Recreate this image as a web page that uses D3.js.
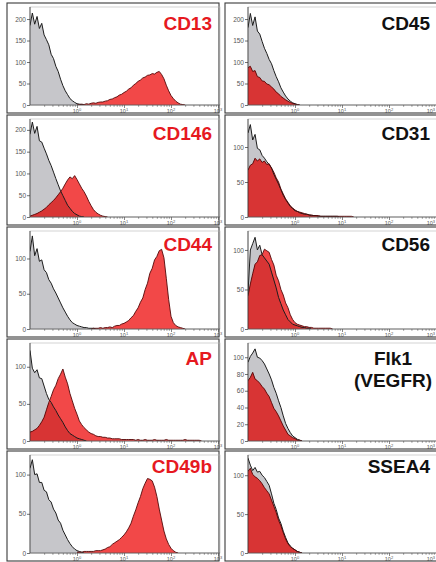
<!DOCTYPE html>
<html><head><meta charset="utf-8">
<script src="https://cdn.jsdelivr.net/npm/d3@7"></script>
<style>html,body{margin:0;padding:0;background:#fff;}svg{display:block;}</style>
</head><body>
<script>
// ---- data ----
const STEP = 0.05; // decades per histogram bin (log10 units)
const markerLines = [["CD13"],["CD45"],["CD146"],["CD31"],["CD44"],["CD56"],["AP"],["Flk1","(VEGFR)"],["CD49b"],["SSEA4"]];
const positive = [true,false,true,false,true,false,true,false,true,false];
const yMax = [228,228,225,140,139,124,132,117,125,126];
const yTicks = [[0,50,100,150,200],[0,50,100,150,200],[0,50,100,150,200],[0,50,100],[0,50,100],[0,50,100],[0,50,100],[0,20,40,60,80,100],[0,50,100],[0,50,100]];
const xMajor = [1,10,100,1000];
const xSup = ["0","1","2","3"];

// isotype control (grey) counts, start log10 = isoStart
const cd13Iso = [185,214,188,206,178,190,163,152,140,118,108,90,78,60,45,33,24,15,10,6,3,2,1,0];
const cd45Iso = [180,213,185,205,172,165,148,132,120,106,96,80,66,54,40,30,21,14,9,5,3,1,0];
const cd146Iso = [190,218,192,208,175,172,158,145,130,118,103,88,74,60,49,38,27,20,13,8,5,2,1,0];
const cd31Iso = [120,132,110,118,98,96,88,84,79,75,70,61,54,47,39,31,25,20,15,12,9,8,6,5,4,4,3,2,2,2,1,1,1,1,1,1,1,1,1,0];
const cd44Iso = [110,132,104,114,96,98,84,80,70,65,57,51,44,37,30,24,18,13,9,7,5,4,3,2,2,1,1,1,0];
const cd56Iso = [46,100,108,116,100,106,94,90,86,82,72,62,52,40,32,24,18,12,9,6,5,4,3,2,2,1,1,0];
const apIso = [122,98,92,96,85,84,74,64,56,52,46,41,35,30,25,19,14,10,8,6,4,3,2,1,0];
const flk1Iso = [94,101,105,110,100,99,96,92,86,80,73,64,57,48,40,30,21,15,10,6,4,2,1,0];
const cd49bIso = [108,119,100,101,90,90,80,78,68,65,56,51,42,38,29,23,17,12,8,5,3,2,1,0];
const ssea4Iso = [122,113,106,110,104,105,100,97,92,87,76,64,56,45,38,28,20,13,9,6,4,2,1,0];

// antibody-stained (red) counts, start log10 = abStart
const cd13Ab = [0,1,2,1,3,2,4,5,4,6,7,7,9,10,13,14,17,19,23,25,29,32,37,40,46,50,55,58,63,65,69,70,73,72,76,78,71,61,46,33,22,15,9,5,2,1,0];
const cd45Ab = [87,90,78,80,66,64,56,55,49,47,42,37,30,26,20,16,12,9,6,4,2,1,0];
const cd146Ab = [2,4,6,8,11,14,18,22,28,33,38,44,51,58,66,76,85,92,88,95,86,76,66,58,48,36,26,17,11,7,4,2,1,0];
const cd31Ab = [67,74,76,84,80,83,78,80,75,76,70,64,56,50,40,33,26,21,16,13,10,8,7,6,5,4,3,3,2,2,2,1,1,1,1,1,1,1,1,1,1,1,1,1,1,0];
const cd44Ab = [0,1,1,1,2,1,2,2,3,2,4,5,5,7,8,10,12,16,19,25,30,38,44,56,65,79,86,98,103,111,113,101,72,42,18,9,5,3,2,1,0];
const cd56Ab = [42,57,70,82,85,93,94,101,99,97,88,81,68,61,50,43,33,27,18,12,8,6,5,4,3,3,2,2,1,1,1,1,1,1,1,1,0];
const apAb = [12,13,15,17,21,26,32,42,52,60,69,75,84,90,97,86,77,64,54,44,36,27,22,18,15,12,10,9,7,6,6,5,5,4,4,3,3,3,3,2,2,2,2,2,2,1,2,1,1,2,1,1,1,2,1,1,1,1,2,1,1,1,1,1,1,1,2,1,1,1,1,1,1,0];
const flk1Ab = [72,76,82,74,72,69,65,62,57,53,46,39,35,30,24,18,13,8,6,4,3,1,1,0];
const cd49bAb = [1,1,1,2,2,2,2,2,3,3,3,4,5,7,8,11,13,15,17,20,23,27,32,38,47,55,64,72,82,89,95,94,92,84,72,56,42,28,18,11,6,3,1,0];
const ssea4Ab = [105,109,101,98,96,93,89,84,80,76,68,60,52,42,35,26,18,12,8,6,4,2,1,0];

const isoCounts = [cd13Iso,cd45Iso,cd146Iso,cd31Iso,cd44Iso,cd56Iso,apIso,flk1Iso,cd49bIso,ssea4Iso];
const abCounts = [cd13Ab,cd45Ab,cd146Ab,cd31Ab,cd44Ab,cd56Ab,apAb,flk1Ab,cd49bAb,ssea4Ab];
const isoStart = [-1,-1,-1,-1,-1,-1,-1,-1,-1,-1];
const abStart = [0,-1,-1,-1,0.3,-1,-1,-1,0,-1];

// ---- layout ----
const W = 436, H = 562;
const labelDy = [27,25,24,26,22];
const svg = d3.select("body").append("svg").attr("width", W).attr("height", H)
  .style("font-family", "'Liberation Sans', Arial, sans-serif");

const toPts = (counts, start) => counts.map((c, k) => ({v: Math.pow(10, start + k * STEP), c}));
// overlap of the two histograms on their shared bin grid (min of both)
const overlapPts = (a, sa, b, sb) => {
  const ia = Math.round(sa / STEP), ib = Math.round(sb / STEP);
  const lo = Math.max(ia, ib), hi = Math.min(ia + a.length, ib + b.length);
  const out = [];
  for (let k = lo; k < hi; k++) out.push({v: Math.pow(10, k * STEP), c: Math.min(a[k - ia], b[k - ib])});
  return out;
};

markerLines.forEach((lines, i) => {
  const row = Math.floor(i / 2), col = i % 2;
  const fx = col ? 225 : 7, fy = 3 + 112 * row, fw = col ? 215 : 212, fh = 110;
  const ax0 = 30 + 218 * col;
  const yb = 105 + 112 * row, yt = yb - 98;
  const x = d3.scaleLog().domain([0.1, 1000]).range([ax0, ax0 + 188]);
  const y = d3.scaleLinear().domain([0, yMax[i]]).range([yb, yt]);

  const g = svg.append("g");
  g.append("rect").attr("x", fx).attr("y", fy).attr("width", fw).attr("height", fh)
    .attr("fill", "#fff").attr("stroke", "#3a3a3a").attr("stroke-width", 1.1);

  const clipId = "clip" + i;
  g.append("clipPath").attr("id", clipId).append("rect")
    .attr("x", ax0).attr("y", yt - 2).attr("width", 190).attr("height", yb - yt + 2);

  // plot box
  g.append("rect").attr("x", ax0).attr("y", yt).attr("width", 190).attr("height", yb - yt)
    .attr("fill", "none").attr("stroke", "#b5b5b5").attr("stroke-width", 0.6);

  const iso = toPts(isoCounts[i], isoStart[i]);
  const ab = toPts(abCounts[i], abStart[i]);
  const ov = overlapPts(isoCounts[i], isoStart[i], abCounts[i], abStart[i]);
  const area = d3.area().x(d => x(d.v)).y0(yb).y1(d => y(d.c));
  const line = d3.line().x(d => x(d.v)).y(d => y(d.c));

  const pg = g.append("g").attr("clip-path", `url(#${clipId})`);
  pg.append("path").datum(iso).attr("d", area).attr("fill", "#c6c6ca");
  pg.append("path").datum(ab).attr("d", area).attr("fill", "#f24848");
  if (ov.length) pg.append("path").datum(ov).attr("d", area).attr("fill", "#d83434");
  pg.append("path").datum(iso).attr("d", line).attr("fill", "none").attr("stroke", "#1c1c1c").attr("stroke-width", 1);
  pg.append("path").datum(ab).attr("d", line).attr("fill", "none").attr("stroke", "#520808").attr("stroke-width", 0.9);

  // y axis
  const ya = g.append("g").attr("transform", `translate(${ax0},0)`)
    .call(d3.axisLeft(y).tickValues(yTicks[i]).tickSize(3).tickFormat(d3.format("d")));
  ya.select(".domain").attr("stroke", "#333").attr("stroke-width", 0.8).attr("d", `M0,${yb}V${yt}`);
  ya.selectAll(".tick line").attr("stroke", "#333").attr("stroke-width", 0.7);
  ya.selectAll(".tick text").attr("font-size", 6.5).attr("fill", "#555").attr("font-family", "'Liberation Sans', Arial, sans-serif").attr("x", -4);

  // x axis with log minor ticks
  const minor = [];
  for (let e = -1; e < 3; e++) for (let m = 2; m <= 9; m++) minor.push(m * Math.pow(10, e));
  const xa = g.append("g").attr("transform", `translate(0,${yb})`);
  xa.call(d3.axisBottom(x).tickValues(minor).tickSize(1.8).tickFormat(""));
  xa.select(".domain").attr("stroke", "#555").attr("stroke-width", 0.8).attr("d", `M${ax0},0H${ax0 + 190}`);
  xa.selectAll(".tick line").attr("stroke", "#555").attr("stroke-width", 0.6);
  const xb = g.append("g").attr("transform", `translate(0,${yb})`);
  xb.call(d3.axisBottom(x).tickValues(xMajor).tickSize(3).tickFormat(""));
  xb.select(".domain").remove();
  xb.selectAll(".tick line").attr("stroke", "#555").attr("stroke-width", 0.7);
  xMajor.forEach((v, k) => {
    const edge = col === 1 && k === xMajor.length - 1;
    const t = g.append("text").attr("x", edge ? 435 : x(v)).attr("y", yb + 7.5)
      .attr("text-anchor", edge ? "end" : "middle")
      .attr("font-size", 5.5).attr("fill", "#555");
    t.append("tspan").text("10");
    t.append("tspan").attr("dy", -2).attr("font-size", 4).text(xSup[k]);
  });

  // marker label
  const lab = g.append("text").attr("font-size", 19).attr("font-weight", "bold")
    .attr("fill", positive[i] ? "#e6191f" : "#111");
  if (lines.length === 1) {
    lab.attr("x", col ? 430 : 212).attr("y", fy + labelDy[row]).attr("text-anchor", "end").text(lines[0]);
  } else {
    lab.attr("text-anchor", "middle");
    lines.forEach((s, k) => lab.append("tspan").attr("x", 393).attr("y", fy + labelDy[row] + k * 21.5).text(s));
  }
});
</script>
</body></html>
